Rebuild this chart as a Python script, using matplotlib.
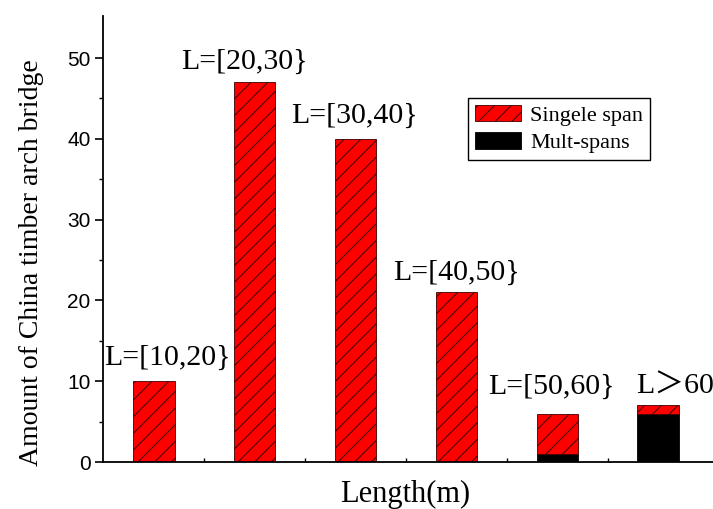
import matplotlib.pyplot as plt
import numpy as np

# bridge counts per span-length class
classes = ['L=[10,20}', 'L=[20,30}', 'L=[30,40}', 'L=[40,50}', 'L=[50,60}', 'L＞60']
single_span = [10, 47, 40, 21, 5, 1]
multi_spans = [0, 0, 0, 0, 1, 6]

# where each class label sits (x offset from bar, height in data units)
label_dx = [0.13, -0.10, -0.01, 0.0, -0.06, 0.17]
label_y = [12.9, 49.5, 42.9, 23.4, 9.3, 9.3]

plt.rcParams['hatch.linewidth'] = 0.7
serif = ['Liberation Serif', 'Noto Sans CJK SC']

fig = plt.figure(figsize=(7.13, 5.09), dpi=100)
ax = fig.add_axes([0.1445, 0.0923, 0.8555, 0.8763])

x = np.arange(len(classes))
ax.bar(x, multi_spans, width=0.41, color='black', edgecolor='black',
       linewidth=0.6, label='Mult-spans')
ax.bar(x, single_span, width=0.41, bottom=multi_spans, color='#ff0000',
       edgecolor='#3a0000', linewidth=0.6, hatch='//', label='Singele span')

for i, txt in enumerate(classes):
    ax.text(x[i] + label_dx[i], label_y[i], txt, ha='center', va='center',
            fontsize=21.5, family=serif)

ax.set_xlim(-0.506, 5.546)
ax.set_ylim(0, 55.2)

ax.spines['top'].set_visible(False)
ax.spines['right'].set_visible(False)
ax.spines['left'].set_linewidth(1.3)
ax.spines['bottom'].set_linewidth(1.3)

ax.set_xticks([])
ax.set_xticks(np.arange(0.5, 5, 1), minor=True)
ax.tick_params(axis='x', which='minor', direction='in', length=3, width=1)
ax.set_yticks([0, 10, 20, 30, 40, 50])
ax.set_yticks(np.arange(5, 55, 10), minor=True)
ax.tick_params(axis='y', which='major', direction='out', length=6, width=1.2,
               labelsize=15, pad=3)
ax.tick_params(axis='y', which='minor', direction='out', length=3, width=1)
for lab in ax.get_yticklabels():
    lab.set_family('Liberation Sans')

ax.set_xlabel('Length(m)', fontsize=22, family='Liberation Serif')
ax.xaxis.set_label_coords(0.495, -0.04)
ax.set_ylabel('Amount of China timber arch bridge', fontsize=20,
              family='Liberation Serif')
ax.yaxis.set_label_coords(-0.097, 0.448)

handles, labels = ax.get_legend_handles_labels()
leg = ax.legend(handles[::-1], labels[::-1], loc='upper left',
                bbox_to_anchor=(468 / 713, 1 - 98 / 509), bbox_transform=fig.transFigure,
                fancybox=False, edgecolor='black', framealpha=1,
                prop={'family': 'Liberation Serif', 'size': 16},
                handlelength=2.1, handleheight=0.75, handletextpad=0.4,
                borderpad=0.3, labelspacing=0.3, borderaxespad=0)
leg.get_frame().set_linewidth(1.0)

fig.savefig('out.png', dpi=100)
